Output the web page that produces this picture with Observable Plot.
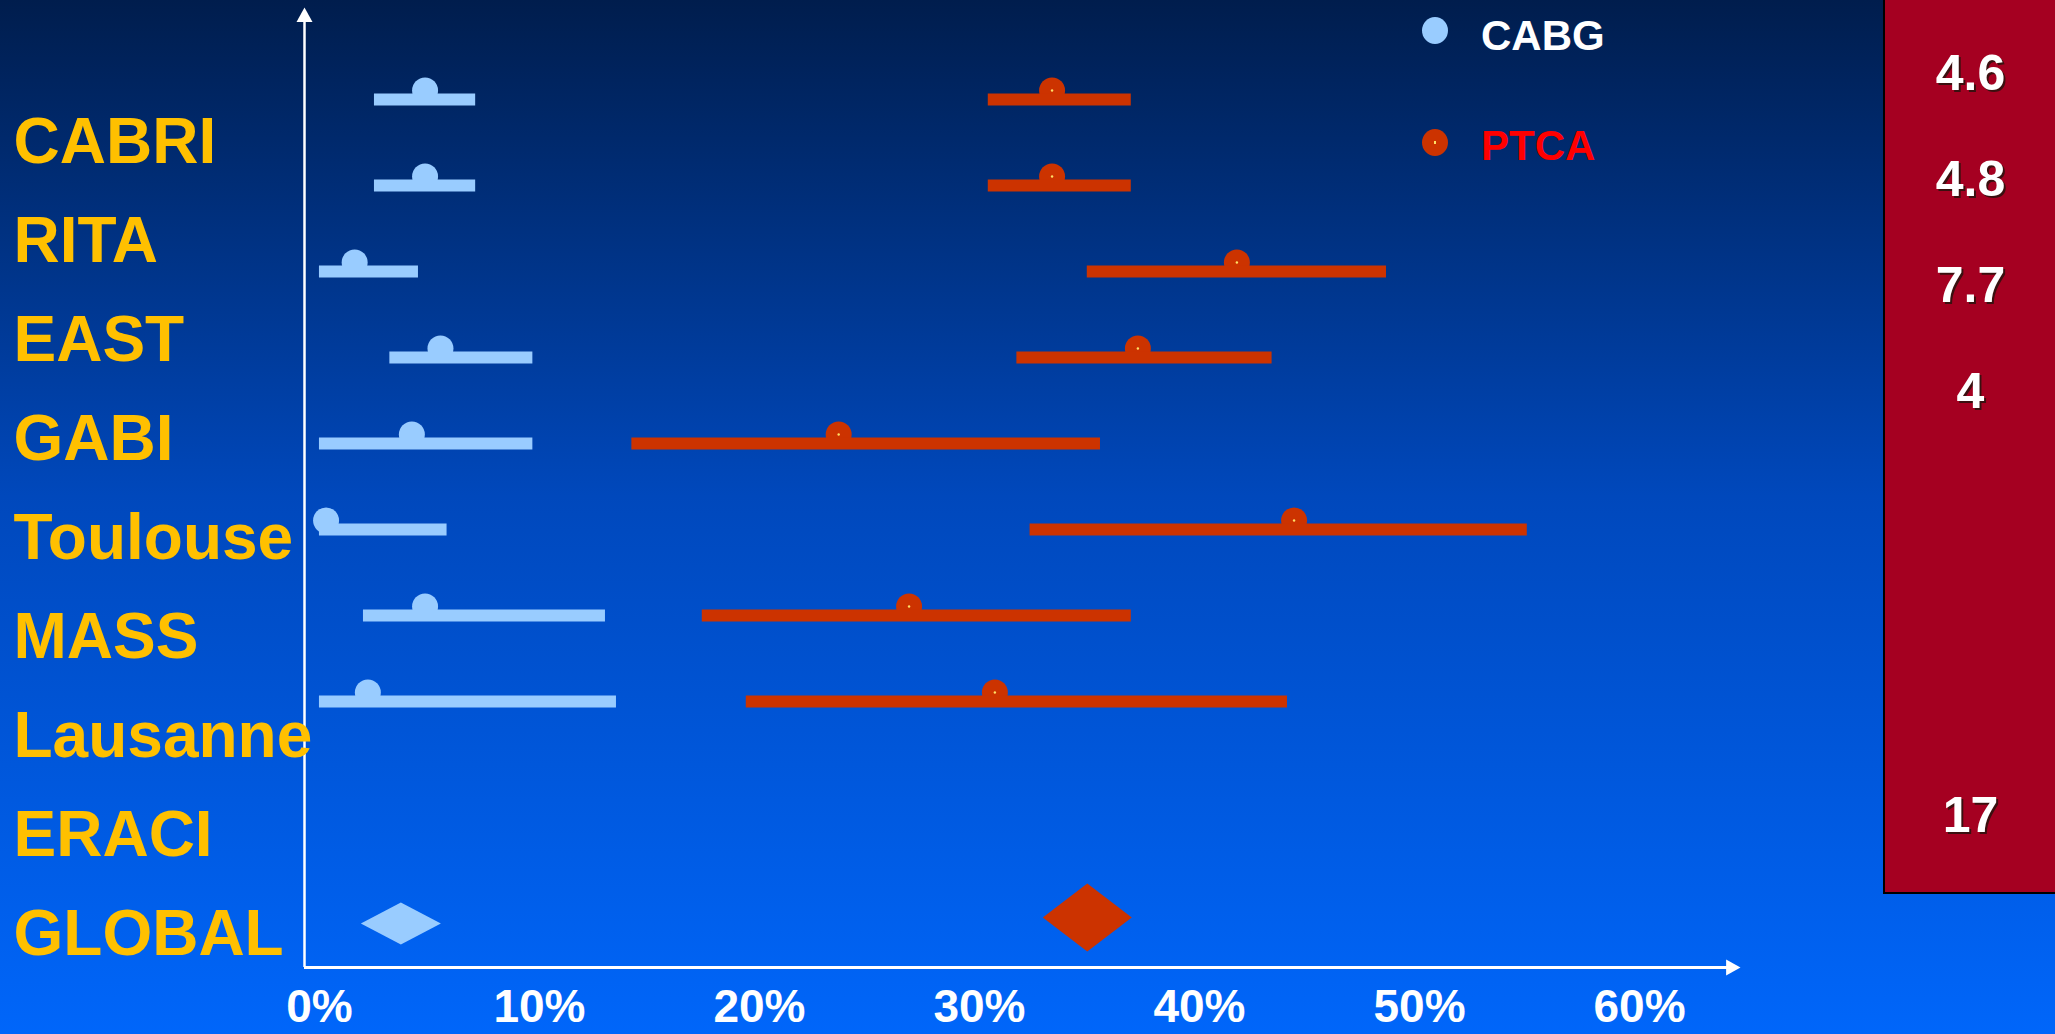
<!DOCTYPE html>
<html>
<head>
<meta charset="utf-8">
<script src="https://cdn.jsdelivr.net/npm/d3@7"></script>
<script src="https://cdn.jsdelivr.net/npm/@observablehq/plot@0.6"></script>
<style>
  html, body { margin: 0; padding: 0; overflow: hidden; background: #0066fa; }
  #stage {
    position: relative; width: 2055px; height: 1034px; overflow: hidden;
    background: linear-gradient(to bottom, #001d4d 0%, #0048bc 48%, #0066fa 100%);
    font-family: Arial, "Liberation Sans", sans-serif;
  }
  #stage svg { position: absolute; top: 0; left: 0; }
  #stage svg.panel { left: 1883px; border-left: 2px solid #000; border-bottom: 2px solid #000; }
  .lg-dot { position: absolute; width: 26px; height: 27px; border-radius: 50%; }
  .lg-pip { position: absolute; left: 12px; top: 12px; width: 2px; height: 3px; background: #ffe066; }
  .lg-text { position: absolute; font-weight: bold; font-size: 42px; line-height: 42px; white-space: nowrap; }
</style>
</head>
<body>
<div id="stage"></div>
<script>
// ---- data ----
const studies = ["CABRI", "RITA", "EAST", "GABI", "Toulouse", "MASS", "Lausanne", "ERACI", "GLOBAL"];
const trials = ["CABRI", "RITA", "EAST", "GABI", "Toulouse", "MASS", "Lausanne", "ERACI"];

// CABG: point estimate and interval (%)
const cabgEst  = [4.8, 4.8, 1.6, 5.5, 4.2, 0.3, 4.8, 2.2];
const cabgLow  = [2.5, 2.5, 0.0, 3.2, 0.0, 0.0, 2.0, 0.0];
const cabgHigh = [7.1, 7.1, 4.5, 9.7, 9.7, 5.8, 13.0, 13.5];

// PTCA: point estimate and interval (%)
const ptcaEst  = [33.3, 33.3, 41.7, 37.2, 23.6, 44.3, 26.8, 30.7];
const ptcaLow  = [30.4, 30.4, 34.9, 31.7, 14.2, 32.3, 17.4, 19.4];
const ptcaHigh = [36.9, 36.9, 48.5, 43.3, 35.5, 54.9, 36.9, 44.0];

// GLOBAL pooled estimates
const groups = ["CABG", "PTCA"];
const globalEst = [3.7, 34.9];

// right-hand column values
const sideValues = [4.6, 4.8, 7.7, 4, null, null, null, 17];

const tickValues = [0, 10, 20, 30, 40, 50, 60];

// ---- styling / layout ----
const FONT = "Arial, 'Liberation Sans', sans-serif";
const CABG_COLOR = "#99ccff";
const PTCA_COLOR = "#cc3300";
const W = 2055, H = 1034;
const xDomain = [-0.68, 64.5];
const xCommon = {domain: xDomain, axis: null};
const baseStyle = {background: "transparent", fontFamily: FONT, overflow: "visible"};

const rows = (est, lo, hi) => trials.map((study, i) => ({study, est: est[i], lo: lo[i], hi: hi[i]}));
const cabgRows = rows(cabgEst, cabgLow, cabgHigh);
const ptcaRows = rows(ptcaEst, ptcaLow, ptcaHigh);
const sideRows = trials.map((study, i) => ({study, value: sideValues[i]})).filter(d => d.value != null);

const diamond = (ky) => ({
  draw(ctx, size) {
    const r = Math.sqrt(size / Math.PI), h = r * ky;
    ctx.moveTo(-r, 0); ctx.lineTo(0, -h); ctx.lineTo(r, 0); ctx.lineTo(0, h); ctx.closePath();
  }
});
const arrowUp = {
  draw(ctx, size) {
    const r = Math.sqrt(size / Math.PI);
    ctx.moveTo(0, 0); ctx.lineTo(-r, 1.8 * r); ctx.lineTo(r, 1.8 * r); ctx.closePath();
  }
};
const arrowRight = {
  draw(ctx, size) {
    const r = Math.sqrt(size / Math.PI);
    ctx.moveTo(0, 0); ctx.lineTo(-1.8 * r, -r); ctx.lineTo(-1.8 * r, r); ctx.closePath();
  }
};

const stage = document.getElementById("stage");

// frame: axes, arrows and tick labels
const frame = Plot.plot({
  width: W, height: H,
  marginLeft: 304, marginRight: 317, marginTop: 17, marginBottom: 67,
  x: xCommon,
  y: {domain: [0, 1], axis: null},
  style: baseStyle,
  marks: [
    Plot.ruleX([xDomain[0]], {stroke: "white", strokeWidth: 2.5}),
    Plot.ruleY([0], {stroke: "white", strokeWidth: 3}),
    Plot.dot([xDomain[0]], {x: d => d, y: () => 1, symbol: arrowUp, r: 8, fill: "white", stroke: "none", dy: -10}),
    Plot.dot([xDomain[1]], {x: d => d, y: () => 0, symbol: arrowRight, r: 8, fill: "white", stroke: "none", dx: 2}),
    Plot.text(tickValues, {x: d => d, y: () => 0, dy: 40, text: d => d + "%", fontSize: 46, fontWeight: "bold", fill: "white"})
  ]
});
stage.appendChild(frame);

// study labels and GLOBAL diamonds
const labels = Plot.plot({
  width: W, height: H,
  marginLeft: 304, marginRight: 317, marginTop: 0, marginBottom: 0,
  x: xCommon,
  y: {type: "point", domain: studies, range: [140, 936], padding: 0, axis: null},
  style: baseStyle,
  marks: [
    Plot.text(studies, {y: d => d, frameAnchor: "left", textAnchor: "start", dx: -291,
      fontSize: 64, fontWeight: "bold", fill: "#ffc000"}),
    Plot.dot([globalEst[0]], {x: d => d, y: () => "GLOBAL", symbol: diamond(0.525), r: 40, fill: CABG_COLOR, stroke: "none", dy: -11}),
    Plot.dot([globalEst[1]], {x: d => d, y: () => "GLOBAL", symbol: diamond(0.764), r: 44.5, fill: PTCA_COLOR, stroke: "none", dy: -17})
  ]
});
stage.appendChild(labels);

// per-trial intervals and estimates
const bars = Plot.plot({
  width: W, height: H,
  marginLeft: 304, marginRight: 317, marginTop: 0, marginBottom: 0,
  x: xCommon,
  y: {type: "point", domain: trials, range: [96, 704], padding: 0, axis: null},
  style: baseStyle,
  marks: [
    Plot.dot(cabgRows, {x: "est", y: "study", r: 13, fill: CABG_COLOR, stroke: "none", dy: -9}),
    Plot.ruleY(cabgRows, {y: "study", x1: "lo", x2: "hi", stroke: CABG_COLOR, strokeWidth: 12}),
    Plot.dot(ptcaRows, {x: "est", y: "study", r: 13, fill: PTCA_COLOR, stroke: "none", dy: -9}),
    Plot.ruleY(ptcaRows, {y: "study", x1: "lo", x2: "hi", stroke: PTCA_COLOR, strokeWidth: 12}),
    Plot.dot(ptcaRows, {x: "est", y: "study", r: 1.2, fill: "#ffe066", stroke: "none", dy: -9})
  ]
});
stage.appendChild(bars);

// right-hand column
const panel = Plot.plot({
  width: 170, height: 892,
  marginLeft: 0, marginRight: 0, marginTop: 0, marginBottom: 0,
  x: {domain: [0, 1], axis: null},
  y: {type: "point", domain: trials, range: [72, 815], padding: 0, axis: null},
  style: {background: "#a50021", fontFamily: FONT},
  marks: [
    Plot.text(sideRows, {y: "study", text: d => String(d.value), dx: 2, dy: 2, fontSize: 50, fontWeight: "bold", fill: "#3a1010"}),
    Plot.text(sideRows, {y: "study", text: d => String(d.value), fontSize: 50, fontWeight: "bold", fill: "white"})
  ]
});
panel.classList.add("panel");
stage.appendChild(panel);

// legend
const legend = [
  {label: "CABG", color: CABG_COLOR, text: "white", cy: 30, ty: 36},
  {label: "PTCA", color: PTCA_COLOR, text: "#ff0000", cy: 142, ty: 146}
];
legend.forEach(d => {
  const dot = document.createElement("div");
  dot.className = "lg-dot";
  dot.style.left = (1435 - 13) + "px";
  dot.style.top = (d.cy - 13) + "px";
  dot.style.background = d.color;
  if (d.label === "PTCA") {
    const pip = document.createElement("div");
    pip.className = "lg-pip";
    dot.appendChild(pip);
  }
  stage.appendChild(dot);
  const t = document.createElement("div");
  t.className = "lg-text";
  t.style.left = "1481px";
  t.style.top = (d.ty - 21) + "px";
  t.style.color = d.text;
  t.textContent = d.label;
  stage.appendChild(t);
});
</script>
</body>
</html>
